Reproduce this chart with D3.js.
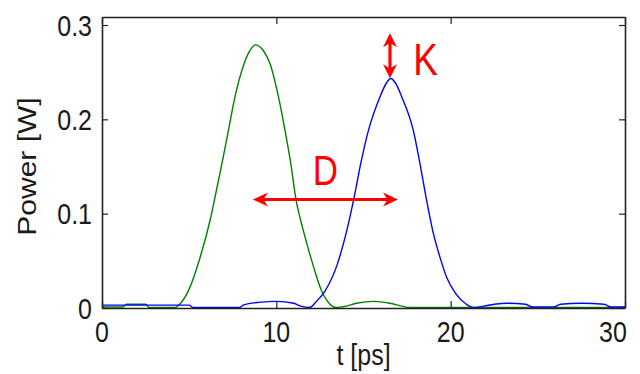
<!DOCTYPE html>
<html><head><meta charset="utf-8">
<script src="https://cdn.jsdelivr.net/npm/d3@7"></script>
<style>html,body{margin:0;padding:0;background:#fff;}svg{display:block;}</style>
</head><body>
<svg id="chart" width="640" height="374"></svg>
<script>
// ---- data ----
const greenT = [0,1.2,1.4,2.5,2.7,4.2,4.4,5.0,5.6,6.2,6.6,6.9,7.25,7.63,8.15,8.49,8.78,9.25,9.64,10.12,10.5,10.83,11.11,11.55,12.09,12.6,13.08,13.4,14.0,14.6,15.6,16.5,17.2,17.6,30];
const greenP = [0.001,0.001,0.004,0.004,0.0005,0.0005,0.003,0.02,0.052,0.093,0.128,0.155,0.188,0.224,0.259,0.273,0.279,0.273,0.259,0.224,0.188,0.153,0.117,0.082,0.0465,0.018,0.004,0.0005,0.002,0.005,0.007,0.005,0.002,0.0005,0.0005];
const blueT = [0,5.0,5.2,7.9,8.1,9.0,10.0,11.0,11.4,11.9,12.32,12.79,13.5,14.04,14.46,14.84,15.28,15.95,16.3,16.56,16.85,17.19,17.86,18.24,18.59,18.97,19.45,19.78,20.3,20.9,21.3,21.9,22.5,23.3,24.3,24.7,25.9,26.3,27.5,28.8,29.2,30];
const blueP = [0.003,0.003,0.0005,0.0005,0.003,0.006,0.007,0.005,0.002,0.0005,0.0074,0.018,0.0465,0.082,0.117,0.153,0.188,0.224,0.238,0.2433,0.238,0.224,0.188,0.153,0.117,0.082,0.05,0.032,0.015,0.004,0.0005,0.002,0.004,0.005,0.004,0.001,0.001,0.004,0.005,0.004,0.001,0.001];
const xTicks = [0,10,20,30];
const yTicks = [0,0.1,0.2,0.3];
const yTickLabels = ["0","0.1","0.2","0.3"];
const xLabel = "t [ps]";
const yLabel = "Power [W]";
// annotations in data units
const dArrow = {t0:8.66, t1:16.98, p:0.115, label:"D", lt:12.82, lp:0.1304};
const kArrow = {t:16.52, p0:0.2436, p1:0.2913, label:"K", lt:18.56, lp:0.247};

// ---- drawing ----
const svg = d3.select("#chart");
const x = d3.scaleLinear().domain([0,30]).range([102,625]);
const yMax = 0.3085;
const y = d3.scaleLinear().domain([0,yMax]).range([308,17]);
const axisCol = "#222";
const txtCol = "#1a1a1a";
const red = "#ff0000";
const font = "Liberation Sans, Arial, sans-serif";

const line = d3.line().x(d=>x(d[0])).y(d=>y(d[1])).curve(d3.curveMonotoneX);
svg.append("path").datum(greenT.map((t,i)=>[t,greenP[i]]))
  .attr("d",line).attr("fill","none").attr("stroke","#008000").attr("stroke-width",1.4);
svg.append("path").datum(blueT.map((t,i)=>[t,blueP[i]]))
  .attr("d",line).attr("fill","none").attr("stroke","#0000ff").attr("stroke-width",1.4);

// axes with inward ticks on all four sides
const styleAxis = g => { g.selectAll("path").attr("stroke",axisCol).attr("stroke-width",1.6);
  g.selectAll("line").attr("stroke",axisCol).attr("stroke-width",1.2);
  g.selectAll("text").remove(); };
svg.append("g").attr("transform",`translate(0,${y(0)})`)
  .call(d3.axisBottom(x).tickValues(xTicks).tickSize(-7).tickSizeOuter(0)).call(styleAxis);
svg.append("g").attr("transform",`translate(0,${y(yMax)})`)
  .call(d3.axisTop(x).tickValues(xTicks).tickSize(-7).tickSizeOuter(0)).call(styleAxis);
svg.append("g").attr("transform",`translate(${x(0)},0)`)
  .call(d3.axisLeft(y).tickValues(yTicks).tickSize(-6).tickSizeOuter(0)).call(styleAxis);
svg.append("g").attr("transform",`translate(${x(30)},0)`)
  .call(d3.axisRight(y).tickValues(yTicks).tickSize(-6).tickSizeOuter(0)).call(styleAxis);

// tick labels (font stretched vertically like the reference)
svg.selectAll(".xl").data(xTicks).enter().append("text")
  .attr("transform",(d,i)=>`translate(${i===xTicks.length-1 ? x(d)-12 : x(d)},342) scale(1,1.2)`)
  .attr("text-anchor","middle").attr("font-family",font).attr("font-size",25).attr("fill",txtCol)
  .text(d=>d);
svg.selectAll(".yl").data(yTicks).enter().append("text")
  .attr("transform",d=>`translate(92,${y(d)+10.8}) scale(1,1.2)`)
  .attr("text-anchor","end").attr("font-family",font).attr("font-size",25).attr("fill",txtCol)
  .text((d,i)=>yTickLabels[i]);
svg.append("text").attr("transform",`translate(${(x(0)+x(30))/2},365) scale(1,1.2)`)
  .attr("text-anchor","middle").attr("font-family",font).attr("font-size",25).attr("fill",txtCol)
  .text(xLabel);
svg.append("text").attr("transform",`translate(35.5,${(y(0)+y(yMax))/2+4}) rotate(-90) scale(1.2,1)`)
  .attr("text-anchor","middle").attr("font-family",font).attr("font-size",25).attr("fill",txtCol)
  .text(yLabel);

// annotation arrows
function head(tipX,tipY,dirX,dirY,len,hw){
  const bx = tipX - dirX*len, by = tipY - dirY*len;
  const nx = -dirY, ny = dirX;
  const mx = tipX - dirX*len*0.7, my = tipY - dirY*len*0.7;
  return `M${tipX},${tipY}L${bx+nx*hw},${by+ny*hw}L${mx},${my}L${bx-nx*hw},${by-ny*hw}Z`;
}
const dx0 = x(dArrow.t0), dx1 = x(dArrow.t1), dy = y(dArrow.p);
svg.append("line").attr("x1",dx0+8).attr("x2",dx1-8).attr("y1",dy).attr("y2",dy)
  .attr("stroke",red).attr("stroke-width",3.2);
svg.append("path").attr("d",head(dx0,dy,-1,0,15,7)).attr("fill",red);
svg.append("path").attr("d",head(dx1,dy,1,0,15,7)).attr("fill",red);
const kx = x(kArrow.t), ky0 = y(kArrow.p0), ky1 = y(kArrow.p1);
svg.append("line").attr("x1",kx).attr("x2",kx).attr("y1",ky0-8).attr("y2",ky1+8)
  .attr("stroke",red).attr("stroke-width",3.2);
svg.append("path").attr("d",head(kx,ky0,0,1,14,7)).attr("fill",red);
svg.append("path").attr("d",head(kx,ky1,0,-1,14,7)).attr("fill",red);
svg.append("text").attr("transform",`translate(${x(dArrow.lt)},${y(dArrow.lp)}) scale(1,1.2)`)
  .attr("text-anchor","middle").attr("font-family",font).attr("font-size",35).attr("fill",red)
  .text(dArrow.label);
svg.append("text").attr("transform",`translate(${x(kArrow.lt)},${y(kArrow.lp)}) scale(1,1.2)`)
  .attr("text-anchor","middle").attr("font-family",font).attr("font-size",37).attr("fill",red)
  .text(kArrow.label);
</script>
</body></html>
